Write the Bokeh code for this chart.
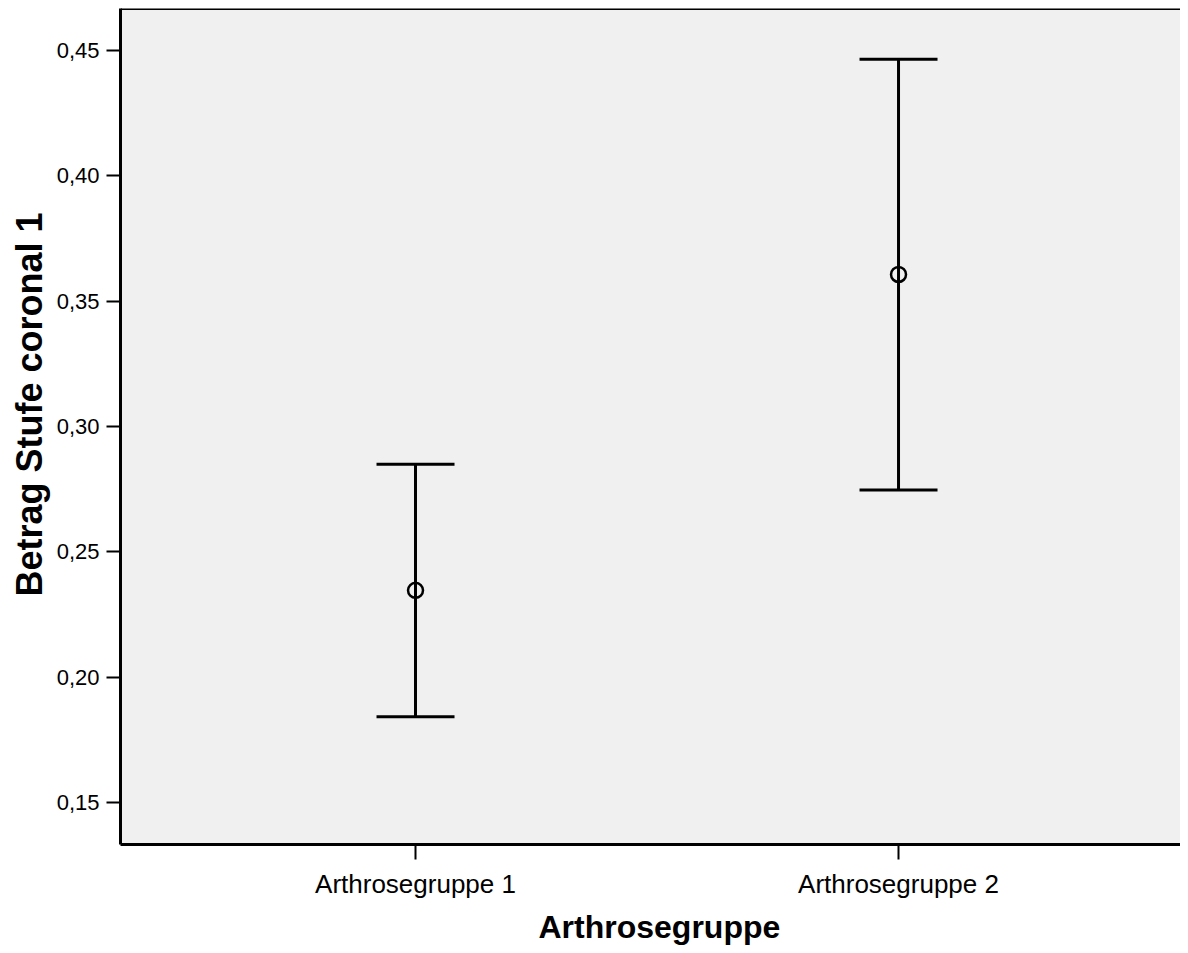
from bokeh.plotting import figure
from bokeh.models import (ColumnDataSource, Whisker, TeeHead, Range1d, FixedTicker,
                          CustomJSTickFormatter, Span, Title)
from bokeh.embed import file_html
from bokeh.resources import INLINE

# ---- data ----
categories = ["Arthrosegruppe 1", "Arthrosegruppe 2"]
positions = [1, 2]
means = [0.2347, 0.3606]
upper = [0.2850, 0.4464]
lower = [0.1843, 0.2747]
y_ticks = [0.15, 0.20, 0.25, 0.30, 0.35, 0.40, 0.45]
x_title = "Arthrosegruppe"
y_title = "Betrag Stufe coronal 1"

FONT = "Liberation Sans"

y_start, y_end = 0.1334, 0.4666
p = figure(width=1180, height=949, output_backend="svg", toolbar_location=None,
           x_range=Range1d(0.3892, 2.5838), y_range=Range1d(y_start, y_end),
           min_border_top=8, min_border_right=0, min_border_left=120, min_border_bottom=0)

p.background_fill_color = "#f0f0f0"
p.border_fill_color = "white"
p.outline_line_color = None
p.xgrid.visible = False
p.ygrid.visible = False

src = ColumnDataSource(dict(x=positions, mean=means, upper=upper, lower=lower))

w = Whisker(base="x", upper="upper", lower="lower", source=src, dimension="height",
            line_color="black", line_width=3,
            upper_head=TeeHead(size=78, line_width=3, line_color="black"),
            lower_head=TeeHead(size=78, line_width=3, line_color="black"))
p.add_layout(w)

p.scatter("x", "mean", source=src, marker="circle", size=15, fill_color=None,
          line_color="black", line_width=2.5)

# top frame border
p.add_layout(Span(location=y_end, dimension="width", line_color="black", line_width=3))

# x axis
p.xaxis.ticker = FixedTicker(ticks=positions)
p.xaxis.major_label_overrides = {pos: lab for pos, lab in zip(positions, categories)}
p.xaxis.minor_tick_line_color = None
p.xaxis.major_tick_out = 15
p.xaxis.major_tick_in = 0
p.xaxis.major_tick_line_width = 2
p.xaxis.axis_line_width = 3
p.xaxis.major_label_text_font = FONT
p.xaxis.major_label_text_font_size = "26px"
p.xaxis.major_label_text_color = "black"
p.xaxis.major_label_standoff = 9

# y axis
p.yaxis.ticker = FixedTicker(ticks=y_ticks)
p.yaxis.formatter = CustomJSTickFormatter(code="return tick.toFixed(2).replace('.', ',');")
p.yaxis.minor_tick_line_color = None
p.yaxis.major_tick_out = 14
p.yaxis.major_tick_in = 0
p.yaxis.major_tick_line_width = 2
p.yaxis.axis_line_width = 3
p.yaxis.major_label_text_font = FONT
p.yaxis.major_label_text_font_size = "22px"
p.yaxis.major_label_text_color = "black"
p.yaxis.major_label_standoff = 7

# axis titles (placed as titles so their position along the axis can be matched)
p.add_layout(Title(text=x_title, align="left", offset=418, text_font=FONT,
                   text_font_size="32px", text_font_style="bold", text_color="black",
                   standoff=10), "below")
p.add_layout(Title(text=y_title, align="left", offset=248, text_font=FONT,
                   text_font_size="36px", text_font_style="bold", text_color="black",
                   standoff=8), "left")

open("out.html", "w").write(file_html(p, INLINE))
